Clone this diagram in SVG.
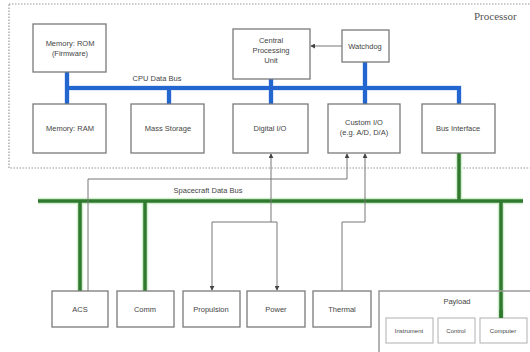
<svg xmlns="http://www.w3.org/2000/svg" width="530" height="352" viewBox="0 0 530 352">
<style>
.box{fill:#fff;stroke:#7a7a7a;stroke-width:1.3}
.sbox{fill:#fff;stroke:#b0b0b0;stroke-width:1}
.t{font-family:"Liberation Sans",Arial,sans-serif;font-size:7.5px;fill:#444;text-anchor:middle}
.blue{stroke:#2466d0;stroke-width:4;fill:none}
.bglow{stroke:#d0e0f8;stroke-width:5.5;fill:none}
.green{stroke:#2f7a2f;stroke-width:3.5;fill:none}
.gglow{stroke:#d3efce;stroke-width:6.5;fill:none}
.thin{stroke:#777;stroke-width:1;fill:none}
</style>
<defs>
<marker id="ah" viewBox="0 0 6 6" refX="5" refY="3" markerWidth="5" markerHeight="5" orient="auto">
<path d="M0,0 L6,3 L0,6 z" fill="#444"/>
</marker>
</defs>
<rect width="530" height="352" fill="#fff"/>
<g id="processor">
<rect x="9" y="4" width="530" height="164" fill="none" stroke="#999" stroke-width="1.2" stroke-dasharray="1.5,1.5"/>
<text x="474" y="20" style="font-family:'Liberation Serif',serif;font-size:11px;fill:#555">Processor</text>
</g>
<g id="connectors">
<path class="bglow" d="M67,72 V104 M67,88 H459 V104 M169,88 V104 M271,79 V104 M365,62 V104"/>
<path class="blue" d="M67,72 V104 M67,88 H459 V104 M169,88 V104 M271,79 V104 M365,62 V104"/>
<path class="gglow" d="M38,201 H523 M459,153 V201 M80,201 V291 M145,201 V291 M501,201 V318"/>
<path class="green" d="M38,201 H523 M459,153 V201 M80,201 V291 M145,201 V291 M501,201 V318"/>
<path class="thin" d="M342,46 H311" marker-end="url(#ah)"/>
<path class="thin" d="M88,291 V179 H347 V154" marker-end="url(#ah)"/>
<path class="thin" d="M271,222 V154" marker-end="url(#ah)"/>
<path class="thin" d="M212,222 V290" marker-end="url(#ah)"/>
<path class="thin" d="M212,222 H277 V290" marker-end="url(#ah)"/>
<path class="thin" d="M342,291 V222 H365 V154" marker-end="url(#ah)"/>
</g>
<g id="rom"><rect class="box" x="33" y="24" width="73" height="48"/><text class="t" x="70" y="46">Memory: ROM</text><text class="t" x="70" y="56">(Firmware)</text></g>
<g id="cpu"><rect class="box" x="233" y="29" width="77" height="50"/><text class="t" x="271" y="43">Central</text><text class="t" x="271" y="53">Processing</text><text class="t" x="271" y="63">Unit</text></g>
<g id="watchdog"><rect class="box" x="342" y="30" width="47" height="32"/><text class="t" x="365" y="49">Watchdog</text></g>
<text class="t" x="157" y="81">CPU Data Bus</text>
<g id="ram"><rect class="box" x="33" y="104" width="73" height="49"/><text class="t" x="70" y="131">Memory: RAM</text></g>
<g id="mass"><rect class="box" x="131" y="104" width="73" height="49"/><text class="t" x="168" y="131">Mass Storage</text></g>
<g id="digital"><rect class="box" x="233" y="104" width="75" height="49"/><text class="t" x="270" y="131">Digital I/O</text></g>
<g id="custom"><rect class="box" x="328" y="104" width="72" height="49"/><text class="t" x="364" y="125">Custom I/O</text><text class="t" x="364" y="135">(e.g. A/D, D/A)</text></g>
<g id="businterface"><rect class="box" x="422" y="104" width="73" height="49"/><text class="t" x="458" y="131">Bus Interface</text></g>
<text class="t" x="208" y="193">Spacecraft Data Bus</text>
<g id="acs"><rect class="box" x="52" y="291" width="56" height="36"/><text class="t" x="80" y="312">ACS</text></g>
<g id="comm"><rect class="box" x="117" y="291" width="57" height="36"/><text class="t" x="145" y="312">Comm</text></g>
<g id="propulsion"><rect class="box" x="183" y="291" width="57" height="36"/><text class="t" x="211" y="312">Propulsion</text></g>
<g id="power"><rect class="box" x="247" y="291" width="58" height="36"/><text class="t" x="276" y="312">Power</text></g>
<g id="thermal"><rect class="box" x="313" y="291" width="58" height="36"/><text class="t" x="342" y="312">Thermal</text></g>
<g id="payload"><rect x="379" y="291" width="170" height="80" fill="none" stroke="#999" stroke-width="1.5"/><text class="t" x="457" y="304">Payload</text></g>
<g id="instrument"><rect class="sbox" x="386" y="318" width="47" height="25"/><text class="t" x="409" y="333" style="font-size:6px">Instrument</text></g>
<g id="control"><rect class="sbox" x="438" y="318" width="37" height="25"/><text class="t" x="456" y="333" style="font-size:6px">Control</text></g>
<g id="computer"><rect class="sbox" x="480" y="318" width="47" height="25"/><text class="t" x="503" y="333" style="font-size:6px">Computer</text></g>
<path class="green" d="M501,310 V318"/>
</svg>
